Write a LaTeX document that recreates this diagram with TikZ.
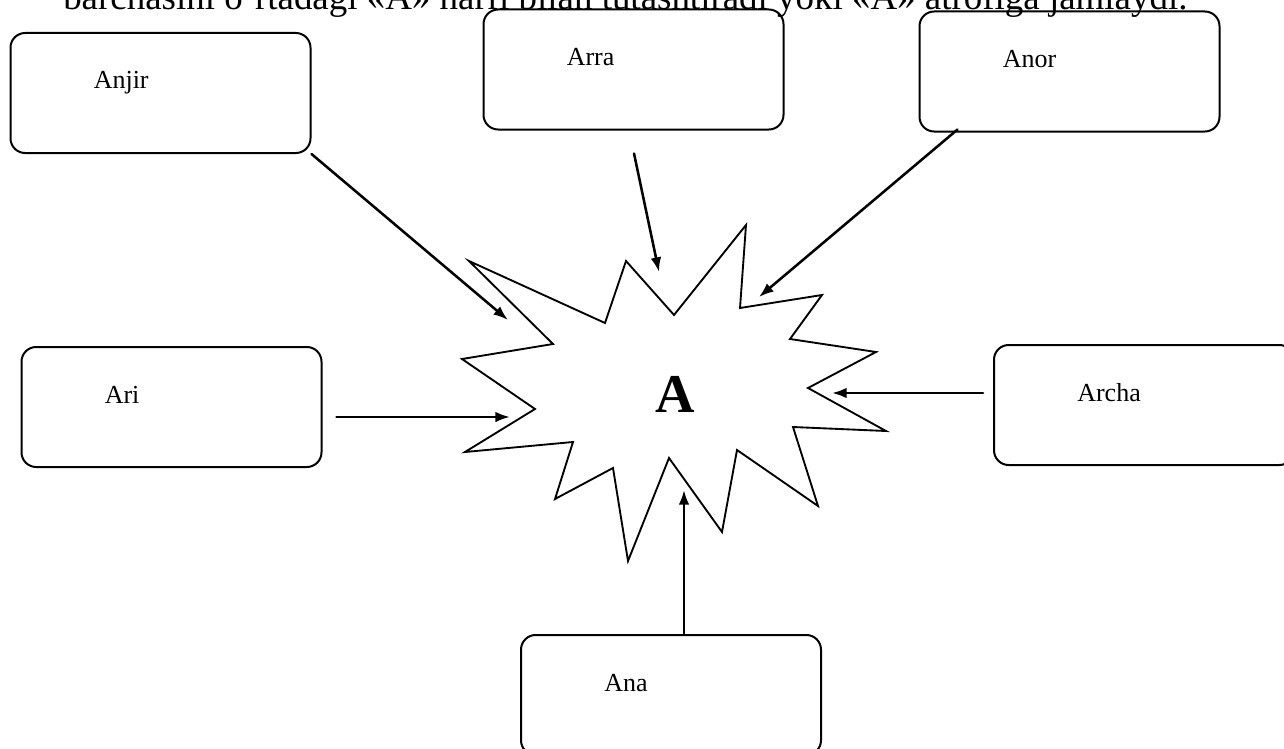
\documentclass[tikz,border=0pt]{standalone}
\usepackage{fontspec}
\setmainfont{Liberation Serif}
\usetikzlibrary{arrows,arrows.meta}
\tikzset{>=latex}
\tikzset{
  wordbox/.style={draw,line width=1.5pt,rounded corners=11pt,minimum width=225pt,minimum height=90pt,inner sep=0pt},
  word/.style={anchor=base west,inner sep=0pt,font=\fontsize{19.5}{23}\selectfont},
  toptext/.style={anchor=base west,inner sep=0pt,font=\fontsize{27.7}{33}\selectfont},
  bigletter/.style={inner sep=0pt,font=\fontsize{41}{48}\selectfont\bfseries},
  starline/.style={line width=1.4pt,line cap=butt,line join=miter},
  link/.style={-{Latex[length=11pt,width=8pt]},line width=1.9pt}
}

\begin{document}
\begin{tikzpicture}[line cap=round,line join=round,>=latex,x=0.75pt,y=-0.75pt]
			\useasboundingbox (0,0) rectangle (1284,749);
			% line of text cut by the top edge
			\node[toptext] (intro) at (63,10) {barchasini o‘rtadagi «A» harfi bilan tutashtiradi yoki «A» atrofiga jamlaydi.};
			% the six boxes
			\node[wordbox] (anjir) at (160.5,93) {};
			\node[wordbox] (arra) at (633.5,69.5) {};
			\node[wordbox] (anor) at (1069.5,71.5) {};
			\node[wordbox] (ari) at (171.5,407) {};
			\node[wordbox] (archa) at (1144,405) {};
			\node[wordbox] (ana) at (671,695) {};
			\node[word] (anjir-w) at ([shift={(84,57)}]anjir.north west) {Anjir};
			\node[word] (arra-w) at ([shift={(84,57)}]arra.north west) {Arra};
			\node[word] (anor-w) at ([shift={(84,57)}]anor.north west) {Anor};
			\node[word] (ari-w) at ([shift={(84,57)}]ari.north west) {Ari};
			\node[word] (archa-w) at ([shift={(84,57)}]archa.north west) {Archa};
			\node[word] (ana-w) at ([shift={(84,57)}]ana.north west) {Ana};
			% the burst in the middle
			\draw[starline] (469,261) -- (605,323) -- (626,261) -- (674,315) -- (746,225) -- (740,308)
				-- (822,295) -- (790,339) -- (876,352) -- (808,388) -- (886,431) -- (793,427)
				-- (818,506) -- (737,450) -- (722,532) -- (669,458) -- (628,561) -- (613,468)
				-- (555,499) -- (573,442) -- (465,452) -- (535,409) -- (462,359) -- (553,344) -- cycle;
			\node[bigletter] (a) at (675,394) {A};
			% arrow tips
			\coordinate (anjir-tip) at (508,320);
			\coordinate (arra-tip) at (659,272);
			\coordinate (anor-tip) at (759,297);
			\coordinate (ari-tip) at (510,417);
			\coordinate (archa-tip) at (832,393);
			\coordinate (ana-tip) at (684,490);
			\draw[link] (anjir.south east) -- (anjir-tip);
			\draw[link] ([shift={(0.5,23)}]arra.south) -- (arra-tip);
			\draw[link] ([shift={(39,-3)}]anor.south west) -- (anor-tip);
			\draw[link] ([shift={(14,10)}]ari.east) -- (ari-tip);
			\draw[link] ([shift={(-10,-12)}]archa.west) -- (archa-tip);
			\draw[link] ([shift={(13,0)}]ana.north) -- (ana-tip);
\end{tikzpicture}
\end{document}
